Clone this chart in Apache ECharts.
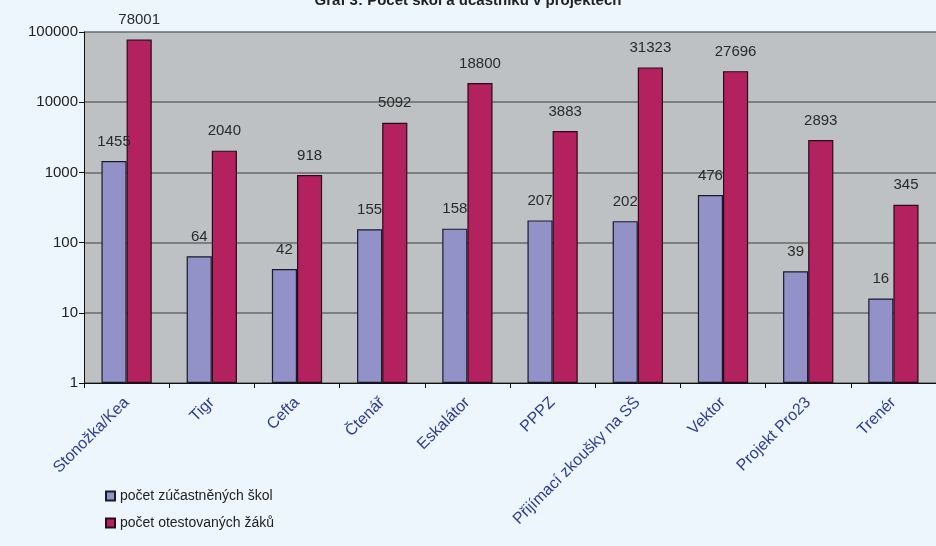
<!DOCTYPE html>
<html>
<head>
<meta charset="utf-8">
<script src="https://cdn.jsdelivr.net/npm/echarts@6/dist/echarts.min.js"></script>
<style>
html,body{margin:0;padding:0;background:#eef6fd;}
#c{width:936px;height:546px;}
</style>
</head>
<body>
<div id="c"></div>
<script>
const titleText = 'Graf 3: Počet škol a účastníků v projektech';
const categories = ['Stonožka/Kea','Tigr','Cefta','Čtenář','Eskalátor','PPPZ','Přijímací zkoušky na SŠ','Vektor','Projekt Pro23','Trenér'];
const seriesNames = ['počet zúčastněných škol','počet otestovaných žáků'];
const schools = [1455,64,42,155,158,207,202,476,39,16];
const pupils = [78001,2040,918,5092,18800,3883,31323,27696,2893,345];
const yMin = 1, yMax = 100000;

const chart = echarts.init(document.getElementById('c'));
const font = 'Liberation Sans, Arial, sans-serif';
const labelCfg = {show:true, position:'top', distance:12, color:'#2a2a2a', fontSize:15, fontFamily:font};
chart.setOption({
  backgroundColor:'#eef6fd',
  animation:false,
  title:{text:titleText, left:'center', top:-12, textStyle:{fontSize:15, fontWeight:'bold', color:'#222', fontFamily:font}},
  legend:{
    orient:'vertical', left:100, top:484, itemGap:13, itemWidth:9, itemHeight:9, icon:'rect',
    textStyle:{fontSize:14, color:'#222', fontFamily:font},
    data:seriesNames
  },
  grid:{left:84, right:-8, top:32, bottom:163, show:true, backgroundColor:'#bdc1c4', borderWidth:0},
  xAxis:{
    type:'category', data:categories,
    axisLine:{lineStyle:{color:'#111', width:1}},
    axisTick:{show:true, length:5, lineStyle:{color:'#111'}},
    axisLabel:{rotate:45, margin:17, color:'#2e3b99', fontSize:16, fontFamily:font, interval:0}
  },
  yAxis:{
    type:'log', logBase:10, min:yMin, max:yMax,
    axisLine:{show:true, lineStyle:{color:'#111', width:1}},
    axisTick:{show:true, length:5, lineStyle:{color:'#111'}},
    axisLabel:{color:'#222', fontSize:15, fontFamily:font, margin:6, formatter:function(v){return String(Math.round(v));}},
    splitLine:{show:true, lineStyle:{color:'#6a6a6a', width:1.5}},
    minorTick:{show:false}, minorSplitLine:{show:false}
  },
  series:[
    {name:seriesNames[0], type:'bar', data:schools, barGap:'0%', barCategoryGap:'41%',
     itemStyle:{color:'#9292c9', borderColor:'#1a1a2a', borderWidth:1.2}, label:labelCfg},
    {name:seriesNames[1], type:'bar', data:pupils,
     itemStyle:{color:'#b3225e', borderColor:'#2a0a18', borderWidth:1.2}, label:labelCfg}
  ]
});
</script>
</body>
</html>
